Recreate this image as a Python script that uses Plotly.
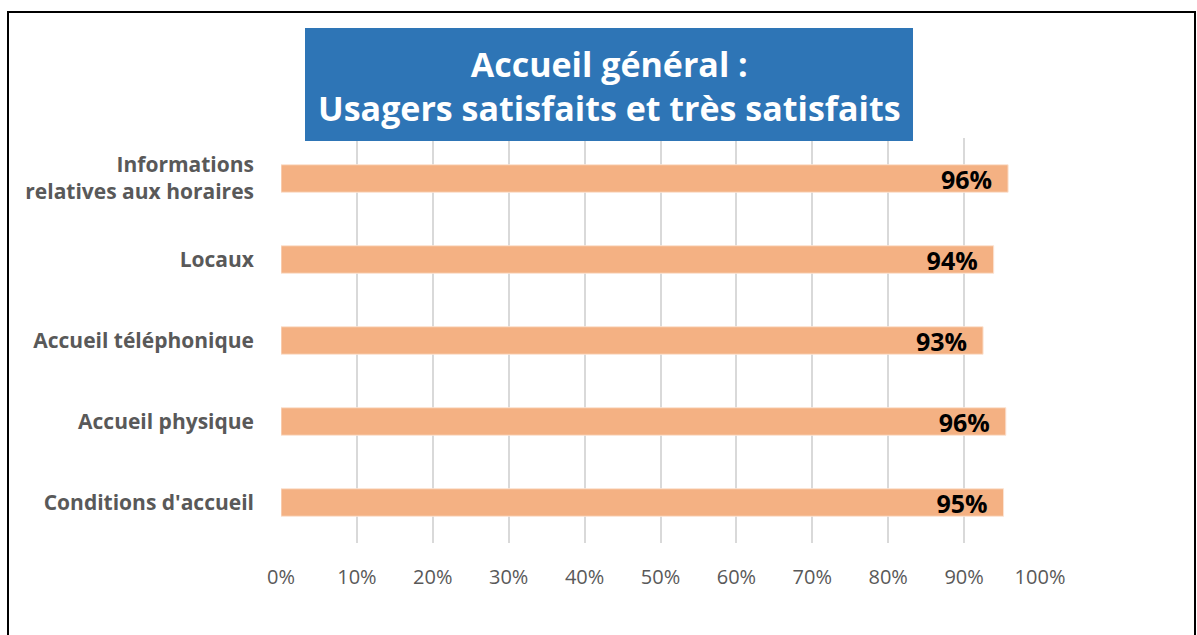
import plotly.graph_objects as go

# bars, listed top to bottom
categories = [
    "Informations<br>relatives aux horaires",
    "Locaux",
    "Accueil téléphonique",
    "Accueil physique",
    "Conditions d'accueil",
]
satisfaits = [0.958, 0.939, 0.925, 0.955, 0.952]
labels = ["96%", "94%", "93%", "96%", "95%"]

W, H = 1197, 635
L, R, T, B = 281, 157, 138, 92
pw, ph = W - L - R, H - T - B


def px(x):
    return (x - L) / pw


def py(y):
    return (H - B - y) / ph


fig = go.Figure()
fig.add_trace(go.Bar(
    x=satisfaits, y=categories, orientation="h",
    marker=dict(color="#F4B183", line=dict(color="#FBE3D3", width=1)),
    text=labels, textposition="inside", insidetextanchor="end",
    texttemplate="%{text}&nbsp;&nbsp;",
    constraintext="none",
    textfont=dict(family="Open Sans", size=25, color="black", weight="bold"),
    cliponaxis=False,
))

# outer frame and blue title box
fig.add_shape(type="rect", xref="paper", yref="paper",
              x0=px(8), x1=px(1195), y0=py(645), y1=py(12),
              line=dict(color="black", width=2), layer="below")
fig.add_shape(type="rect", xref="paper", yref="paper",
              x0=px(305), x1=px(913), y0=py(141), y1=py(28),
              fillcolor="#2E75B6", line=dict(width=0), layer="above")
fig.add_annotation(xref="paper", yref="paper", x=px(609), y=py(86),
                   text="Accueil général :<br>Usagers satisfaits et très satisfaits",
                   showarrow=False, align="center", xanchor="center", yanchor="middle",
                   font=dict(family="Open Sans", size=34, color="white", weight="bold"))

fig.update_layout(
    width=W, height=H,
    margin=dict(l=L, r=R, t=T, b=B),
    paper_bgcolor="white", plot_bgcolor="white",
    bargap=0.66, showlegend=False,
)
fig.update_xaxes(range=[0, 1], tickformat=".0%", dtick=0.1,
                 showgrid=True, gridcolor="#D9D9D9", gridwidth=2,
                 zeroline=False, showline=False, ticks="",
                 ticklabelstandoff=20,
                 tickfont=dict(family="Open Sans", size=20, color="#595959"))
fig.update_yaxes(autorange="reversed", showgrid=False, zeroline=False,
                 ticks="", ticklabelstandoff=26,
                 tickfont=dict(family="Open Sans", size=21, color="#595959", weight="bold"))

# drop the default page margin so the figure sits at the window's corner
fig.write_html("out.html", config={"displayModeBar": False},
               post_script="document.body.style.margin='0';")
